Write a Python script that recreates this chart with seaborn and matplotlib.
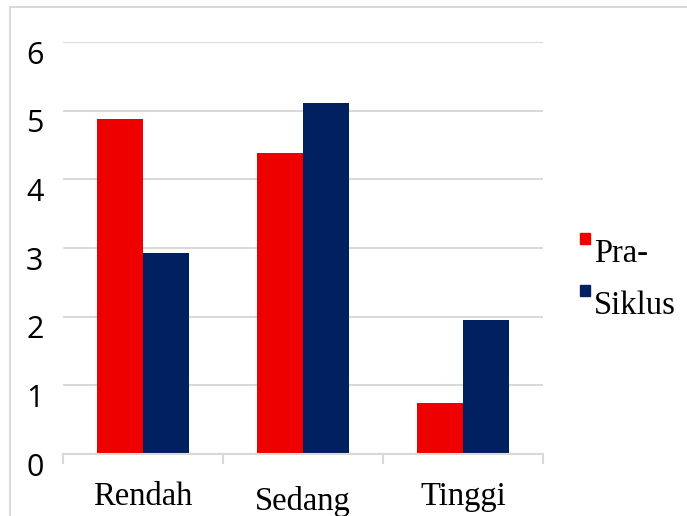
import matplotlib
matplotlib.use('Agg')
import matplotlib.pyplot as plt
import matplotlib.patches as patches
import matplotlib.transforms as mtransforms
import pandas as pd
import seaborn as sns

# ── Data ──────────────────────────────────────────────────────────────────────
categories = ['Rendah', 'Sedang', 'Tinggi']
pra = [4.88, 4.38, 0.74]
siklus = [2.93, 5.11, 1.95]
series_names = ['Pra-', 'Siklus']
colors = ['#EE0000', '#002060']

df = pd.DataFrame({
    'kategori': categories * 2,
    'nilai': pra + siklus,
    'seri': [series_names[0]] * 3 + [series_names[1]] * 3,
})

sns.set_style('white')

fig = plt.figure(figsize=(6.87, 5.16), dpi=100)
ax = fig.add_axes([63 / 687, 1 - 454 / 516, 480 / 687, 412 / 516])

sns.barplot(data=df, x='kategori', y='nilai', hue='seri', palette=colors,
            width=0.575, saturation=1, linewidth=0, ax=ax, legend=False)

ax.set_ylim(0, 6)
ax.set_xlim(-0.5, 2.5)
ax.set_yticks(range(0, 7))
ax.yaxis.grid(True, color='#d9d9d9', linewidth=1.5)
ax.set_axisbelow(True)
for s in ['left', 'right', 'top']:
    ax.spines[s].set_visible(False)
ax.spines['bottom'].set_color('#d9d9d9')
ax.spines['bottom'].set_linewidth(1.5)
ax.set_xlabel('')
ax.set_ylabel('')

# tick marks between categories, labels centred under groups
ax.set_xticks([-0.5, 0.5, 1.5, 2.5], minor=True)
ax.tick_params(axis='x', which='minor', bottom=True, length=7, width=1.5,
               color='#d9d9d9', direction='out')
ax.tick_params(axis='x', which='major', length=0, pad=20)
ax.tick_params(axis='y', length=0, pad=14)
ax.set_xticklabels(categories, fontsize=23.5, family='Liberation Serif', color='black')

# y labels sit a little below their gridlines, as in the original
down = mtransforms.ScaledTranslation(0, -10 / 100, fig.dpi_scale_trans)
for lbl in ax.get_yticklabels():
    lbl.set_fontsize(22)
    lbl.set_family('Open Sans')
    lbl.set_color('black')
    lbl.set_transform(lbl.get_transform() + down)
sed = ax.get_xticklabels()[1]
sed.set_transform(sed.get_transform() +
                  mtransforms.ScaledTranslation(0, -4 / 100, fig.dpi_scale_trans))

# legend drawn like the original: small squares at the top-left of each label
for i, (name, c) in enumerate(zip(series_names, colors)):
    y0 = 1 - (233 + i * 52) / 516
    fig.patches.append(patches.Rectangle((580 / 687, y0 - 11 / 516), 10 / 687, 11 / 516,
                                         transform=fig.transFigure, color=c))
    fig.text(594 / 687, 1 - (262 + i * 52) / 516, name, fontsize=23.5,
             family='Liberation Serif', va='baseline', ha='left', color='black')

# light frame around the chart
fig.patches.append(patches.Rectangle((10 / 687, -0.1), 1.1, 1.1 - 7 / 516,
                                     transform=fig.transFigure, fill=False,
                                     edgecolor='#d9d9d9', linewidth=1.5))

plt.savefig('out.png', dpi=100)
plt.close()
